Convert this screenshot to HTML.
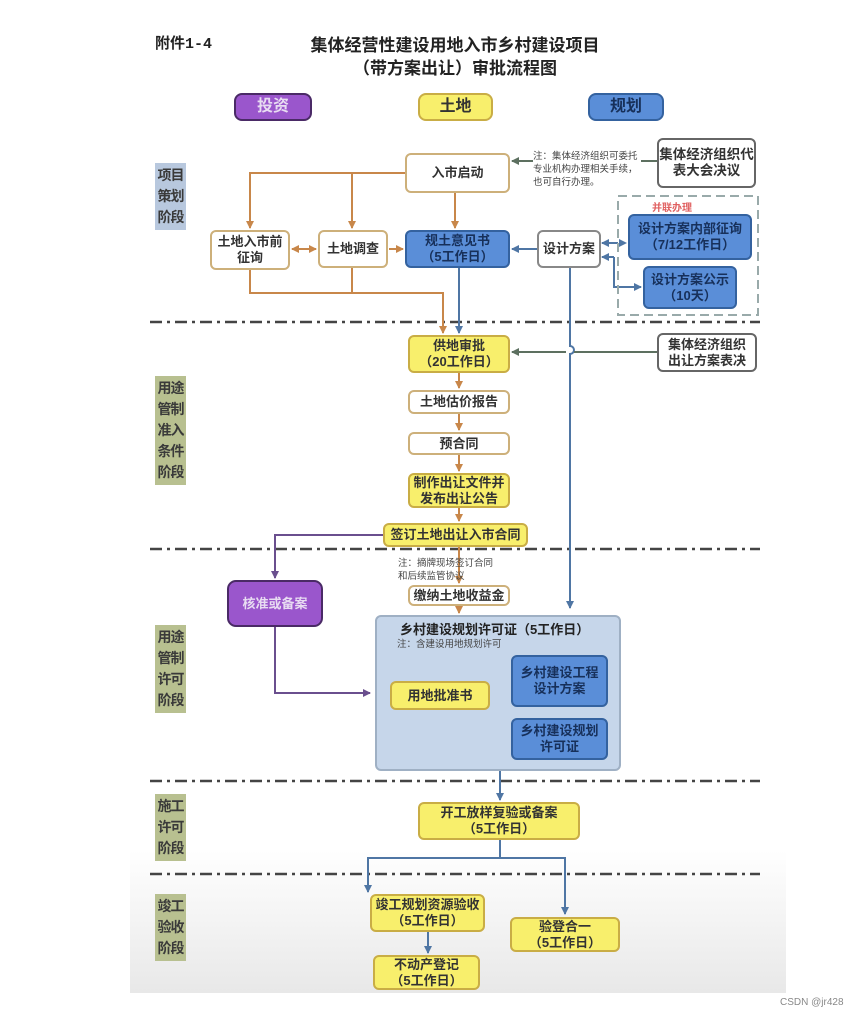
<!DOCTYPE html>
<html><head><meta charset="utf-8"><style>
*{margin:0;padding:0;box-sizing:border-box}
body{width:865px;height:1019px;background:#fff;position:relative;overflow:hidden;font-family:"Liberation Sans","Noto Sans CJK SC",sans-serif;color:#222}
#bg{position:absolute;left:130px;top:20px;width:656px;height:973px;background:linear-gradient(#fff 0,#fff 830px,#e8e8e8 973px)}
.b{position:absolute;display:flex;align-items:center;justify-content:center;text-align:center;font-size:13px;line-height:16px;border-radius:6px;font-weight:bold}
.w{background:#fff;border:2px solid #cdb07a;color:#333}
.y{background:#f8ef6c;border:2px solid #c9ad45;color:#333}
.bl{background:#5a8ed8;border:2px solid #34629f;color:#17305a}
.p{background:#9a56cc;border:2px solid #4a2a66;color:#e8dcf2}
.st{position:absolute;left:155px;width:31px;font-size:14px;line-height:21px;font-weight:bold;color:#3a3a3a;text-align:center;background:#b8c090;padding:2px 0;white-space:nowrap;letter-spacing:-1px}
.t{position:absolute;font-weight:bold}
.n{position:absolute;font-size:9.5px;line-height:13px;color:#444}
svg{position:absolute;left:0;top:0}
</style></head><body>
<div id="bg"></div>
<div class="t" style="left:155px;top:32px;font-size:15px;font-family:'Liberation Mono','Noto Sans CJK SC',monospace">附件1-4</div>
<div class="t" style="left:255px;top:34px;width:400px;text-align:center;font-size:17px;line-height:23px">集体经营性建设用地入市乡村建设项目<br>（带方案出让）审批流程图</div>
<div class="b p" style="left:234px;top:93px;width:78px;height:28px;font-size:16px;border-radius:8px">投资</div>
<div class="b y" style="left:418px;top:93px;width:75px;height:28px;font-size:16px;border-radius:8px">土地</div>
<div class="b bl" style="left:588px;top:93px;width:76px;height:28px;font-size:16px;border-radius:8px">规划</div>
<div class="st" style="top:163px;background:#b8c8de">项目<br>策划<br>阶段</div>
<div class="st" style="top:376px">用途<br>管制<br>准入<br>条件<br>阶段</div>
<div class="st" style="top:625px">用途<br>管制<br>许可<br>阶段</div>
<div class="st" style="top:794px">施工<br>许可<br>阶段</div>
<div class="st" style="top:894px">竣工<br>验收<br>阶段</div>
<svg width="865" height="1019">
<defs>
<marker id="ao" markerWidth="8" markerHeight="8" refX="7" refY="4" orient="auto" markerUnits="userSpaceOnUse"><path d="M0,0L8,4L0,8z" fill="#c8874a"/></marker>
<marker id="ab" markerWidth="8" markerHeight="8" refX="7" refY="4" orient="auto" markerUnits="userSpaceOnUse"><path d="M0,0L8,4L0,8z" fill="#4f76a4"/></marker>
<marker id="ag" markerWidth="8" markerHeight="8" refX="7" refY="4" orient="auto" markerUnits="userSpaceOnUse"><path d="M0,0L8,4L0,8z" fill="#5d7060"/></marker>
<marker id="ap" markerWidth="8" markerHeight="8" refX="7" refY="4" orient="auto" markerUnits="userSpaceOnUse"><path d="M0,0L8,4L0,8z" fill="#6a4f8e"/></marker>
</defs>
<g stroke="#444" stroke-width="2.5" stroke-dasharray="12,5,3,5" fill="none">
<path d="M150 322H760M150 549H760M150 781H760M150 874H760"/>
</g>
<g stroke="#c8874a" stroke-width="2" fill="none">
<path d="M405 173H250V228" marker-end="url(#ao)"/>
<path d="M352 173V228" marker-end="url(#ao)"/>
<path d="M455 193V228" marker-end="url(#ao)"/>
<path d="M292 249H316" marker-end="url(#ao)"/>
<path d="M316 249H292" marker-end="url(#ao)"/>
<path d="M389 249H403" marker-end="url(#ao)"/>
<path d="M250 270V293H443V333" marker-end="url(#ao)"/>
<path d="M352 268V293"/>
<path d="M459 373V388" marker-end="url(#ao)"/>
<path d="M459 414V430" marker-end="url(#ao)"/>
<path d="M459 455V471" marker-end="url(#ao)"/>
<path d="M459 508V521" marker-end="url(#ao)"/>
<path d="M459 547V583" marker-end="url(#ao)"/>
<path d="M459 605V613" marker-end="url(#ao)"/>
</g>
<g stroke="#4f76a4" stroke-width="2" fill="none">
<path d="M459 268V333" marker-end="url(#ab)"/>
<path d="M537 249H512" marker-end="url(#ab)"/>
<path d="M570 268V346a4 4 0 0 1 0 8V608" marker-end="url(#ab)"/>
<path d="M614 243H626" marker-end="url(#ab)" stroke-dasharray="4,2"/>
<path d="M614 243H602" marker-end="url(#ab)"/>
<path d="M614 257H602" marker-end="url(#ab)"/>
<path d="M614 257V287H641" marker-end="url(#ab)"/>
<path d="M500 770V800" marker-end="url(#ab)"/>
<path d="M500 840V858H368V892" marker-end="url(#ab)"/>
<path d="M500 858H565V914" marker-end="url(#ab)"/>
<path d="M428 932V953" marker-end="url(#ab)"/>
</g>
<g stroke="#5d7060" stroke-width="2" fill="none">
<path d="M657 161H512" marker-end="url(#ag)"/>
<path d="M657 352H574M566 352H512" marker-end="url(#ag)"/>
</g>
<g stroke="#6a4f8e" stroke-width="2" fill="none">
<path d="M383 535H275V578" marker-end="url(#ap)"/>
<path d="M275 627V693H370" marker-end="url(#ap)"/>
</g>
<rect x="618" y="196" width="140" height="119" fill="none" stroke="#9aa" stroke-width="2" stroke-dasharray="9,5"/>
</svg>
<div class="b w" style="left:405px;top:153px;width:105px;height:40px">入市启动</div>
<div class="n" style="left:533px;top:150px;width:108px;background:#fff">注：集体经济组织可委托专业机构办理相关手续，也可自行办理。</div>
<div class="b w" style="left:657px;top:138px;width:99px;height:50px;border-color:#666;font-size:13.5px">集体经济组织代表大会决议</div>
<div class="t" style="left:652px;top:199px;font-size:10px;color:#e06060">并联办理</div>
<div class="b bl" style="left:628px;top:214px;width:124px;height:46px">设计方案内部征询<br>（7/12工作日）</div>
<div class="b bl" style="left:643px;top:266px;width:94px;height:43px">设计方案公示<br>（10天）</div>
<div class="b w" style="left:210px;top:230px;width:80px;height:40px">土地入市前<br>征询</div>
<div class="b w" style="left:318px;top:230px;width:70px;height:38px">土地调查</div>
<div class="b bl" style="left:405px;top:230px;width:105px;height:38px">规土意见书<br>（5工作日）</div>
<div class="b w" style="left:537px;top:230px;width:64px;height:38px;border-color:#888">设计方案</div>
<div class="b y" style="left:408px;top:335px;width:102px;height:38px">供地审批<br>（20工作日）</div>
<div class="b w" style="left:657px;top:333px;width:100px;height:39px;border-color:#666">集体经济组织<br>出让方案表决</div>
<div class="b w" style="left:408px;top:390px;width:102px;height:24px">土地估价报告</div>
<div class="b w" style="left:408px;top:432px;width:102px;height:23px">预合同</div>
<div class="b y" style="left:408px;top:473px;width:102px;height:35px">制作出让文件并<br>发布出让公告</div>
<div class="b y" style="left:383px;top:523px;width:145px;height:24px">签订土地出让入市合同</div>
<div class="n" style="left:398px;top:557px;width:120px">注：摘牌现场签订合同<br>和后续监管协议</div>
<div class="b p" style="left:227px;top:580px;width:96px;height:47px;border-radius:9px">核准或备案</div>
<div class="b w" style="left:408px;top:585px;width:102px;height:21px">缴纳土地收益金</div>
<div style="position:absolute;left:375px;top:615px;width:246px;height:156px;background:#c6d6ea;border:2px solid #9fb0c4;border-radius:6px"></div>
<div class="t" style="left:400px;top:619px;font-size:13px">乡村建设规划许可证（5工作日）</div>
<div class="n" style="left:397px;top:638px">注：含建设用地规划许可</div>
<div class="b y" style="left:390px;top:681px;width:100px;height:29px">用地批准书</div>
<div class="b bl" style="left:511px;top:655px;width:97px;height:52px">乡村建设工程<br>设计方案</div>
<div class="b bl" style="left:511px;top:718px;width:97px;height:42px">乡村建设规划<br>许可证</div>
<div class="b y" style="left:418px;top:802px;width:162px;height:38px">开工放样复验或备案<br>（5工作日）</div>
<div class="b y" style="left:370px;top:894px;width:115px;height:38px">竣工规划资源验收<br>（5工作日）</div>
<div class="b y" style="left:510px;top:917px;width:110px;height:35px">验登合一<br>（5工作日）</div>
<div class="b y" style="left:373px;top:955px;width:107px;height:35px">不动产登记<br>（5工作日）</div>
<div style="position:absolute;left:780px;top:997px;font-size:10px;color:#888">CSDN @jr428</div>
</body></html>
